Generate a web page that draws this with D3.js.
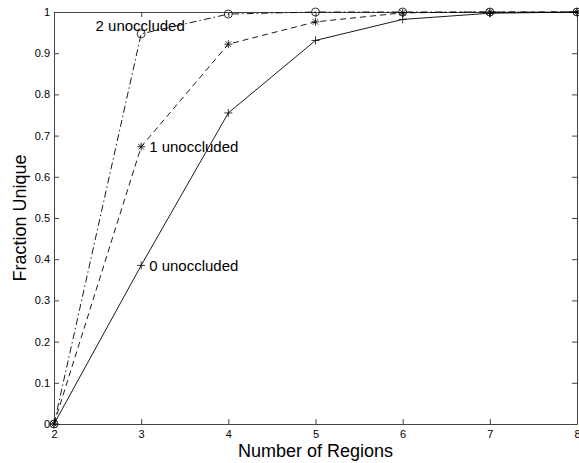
<!DOCTYPE html>
<html>
<head>
<meta charset="utf-8">
<script src="https://cdn.jsdelivr.net/npm/d3@7"></script>
<style>
  body { margin: 0; background: #fff; }
  text { font-family: "Liberation Sans", Arial, sans-serif; fill: #000; }
</style>
</head>
<body>
<svg></svg>
<script>
var width = 579,
	height = 463;

// data
var regions = [2, 3, 4, 5, 6, 7, 8];
var unoccluded0 = [0, 0.385, 0.755, 0.931, 0.982, 0.997, 1.0];
var unoccluded1 = [0, 0.673, 0.922, 0.976, 0.998, 1.0, 1.0];
var unoccluded2 = [0, 0.947, 0.995, 1.0, 1.0, 1.0, 1.0];
var seriesNames = ["0 unoccluded", "1 unoccluded", "2 unoccluded"];
var yTicks = [0, 0.1, 0.2, 0.3, 0.4, 0.5, 0.6, 0.7, 0.8, 0.9, 1];

var margin = {left: 54, right: 2, top: 12, bottom: 39};

var svg = d3.select("svg")
			.attr("width", width)
			.attr("height", height);

var x = d3.scaleLinear()
		.domain([2, 8])
		.range([margin.left, width - margin.right]);
var y = d3.scaleLinear()
		.domain([0, 1])
		.range([height - margin.bottom, margin.top]);

var axisColor = "#444";

// box with inward ticks on all sides
function styleAxis(g) {
	g.select(".domain").attr("stroke", axisColor);
	g.selectAll(".tick line").attr("stroke", axisColor);
	g.selectAll(".tick text").style("font-size", "11px");
}

svg.append("g")
	.attr("transform", "translate(0," + y(0) + ")")
	.call(d3.axisBottom(x).tickValues(regions).tickSizeInner(-5).tickSizeOuter(0).tickPadding(6).tickFormat(d3.format("d")))
	.call(styleAxis);
svg.append("g")
	.attr("transform", "translate(0," + y(1) + ")")
	.call(d3.axisTop(x).tickValues(regions).tickSizeInner(-5).tickSizeOuter(0).tickFormat(""))
	.call(styleAxis);
svg.append("g")
	.attr("transform", "translate(" + x(2) + ",0)")
	.call(d3.axisLeft(y).tickValues(yTicks).tickSizeInner(-5).tickSizeOuter(0).tickPadding(4).tickFormat(function(d){ return d3.format("")(+d.toFixed(1)); }))
	.call(styleAxis);
svg.append("g")
	.attr("transform", "translate(" + x(8) + ",0)")
	.call(d3.axisRight(y).tickValues(yTicks).tickSizeInner(-5).tickSizeOuter(0).tickFormat(""))
	.call(styleAxis);

var series = [
	{name: seriesNames[0], values: unoccluded0, dash: null, marker: "plus"},
	{name: seriesNames[1], values: unoccluded1, dash: "6,4", marker: "star"},
	{name: seriesNames[2], values: unoccluded2, dash: "7,3,1.5,3", marker: "circle"}
];

var line = d3.line()
	.x(function(d, i) { return x(regions[i]); })
	.y(function(d) { return y(d); });

series.forEach(function(s) {
	svg.append("path")
		.attr("d", line(s.values))
		.attr("fill", "none")
		.attr("stroke", "#000")
		.attr("stroke-width", 0.9)
		.attr("stroke-dasharray", s.dash);

	var pts = svg.append("g").selectAll("g")
		.data(s.values)
		.enter()
		.append("g")
		.attr("transform", function(d, i) { return "translate(" + x(regions[i]) + "," + y(d) + ")"; });

	if (s.marker == "circle") {
		pts.append("circle")
			.attr("r", 4)
			.attr("fill", "none")
			.attr("stroke", "#000")
			.attr("stroke-width", 0.8);
	} else {
		var r = 4;
		var segs = [[-r, 0, r, 0], [0, -r, 0, r]];
		if (s.marker == "star") {
			segs.push([-r * 0.7, -r * 0.7, r * 0.7, r * 0.7]);
			segs.push([-r * 0.7, r * 0.7, r * 0.7, -r * 0.7]);
		}
		segs.forEach(function(sg) {
			pts.append("line")
				.attr("x1", sg[0]).attr("y1", sg[1])
				.attr("x2", sg[2]).attr("y2", sg[3])
				.attr("stroke", "#000")
				.attr("stroke-width", 0.8);
		});
	}
});

// text annotations next to the x=3 points
svg.append("text")
	.attr("x", x(3) + 8)
	.attr("y", y(unoccluded0[1]))
	.attr("dy", "0.35em")
	.style("font-size", "15px")
	.text(seriesNames[0]);
svg.append("text")
	.attr("x", x(3) + 8)
	.attr("y", y(unoccluded1[1]))
	.attr("dy", "0.35em")
	.style("font-size", "15px")
	.text(seriesNames[1]);
svg.append("text")
	.attr("x", x(3) - 1)
	.attr("y", y(unoccluded2[1]) - 8)
	.attr("dy", "0.35em")
	.attr("text-anchor", "middle")
	.style("font-size", "15px")
	.text(seriesNames[2]);

// axis titles
svg.append("text")
	.attr("x", (x(2) + x(8)) / 2)
	.attr("y", 457)
	.attr("text-anchor", "middle")
	.style("font-size", "18px")
	.text("Number of Regions");
svg.append("text")
	.attr("transform", "translate(26," + ((y(0) + y(1)) / 2) + ") rotate(-90)")
	.attr("text-anchor", "middle")
	.style("font-size", "18px")
	.text("Fraction Unique");
</script>
</body>
</html>
